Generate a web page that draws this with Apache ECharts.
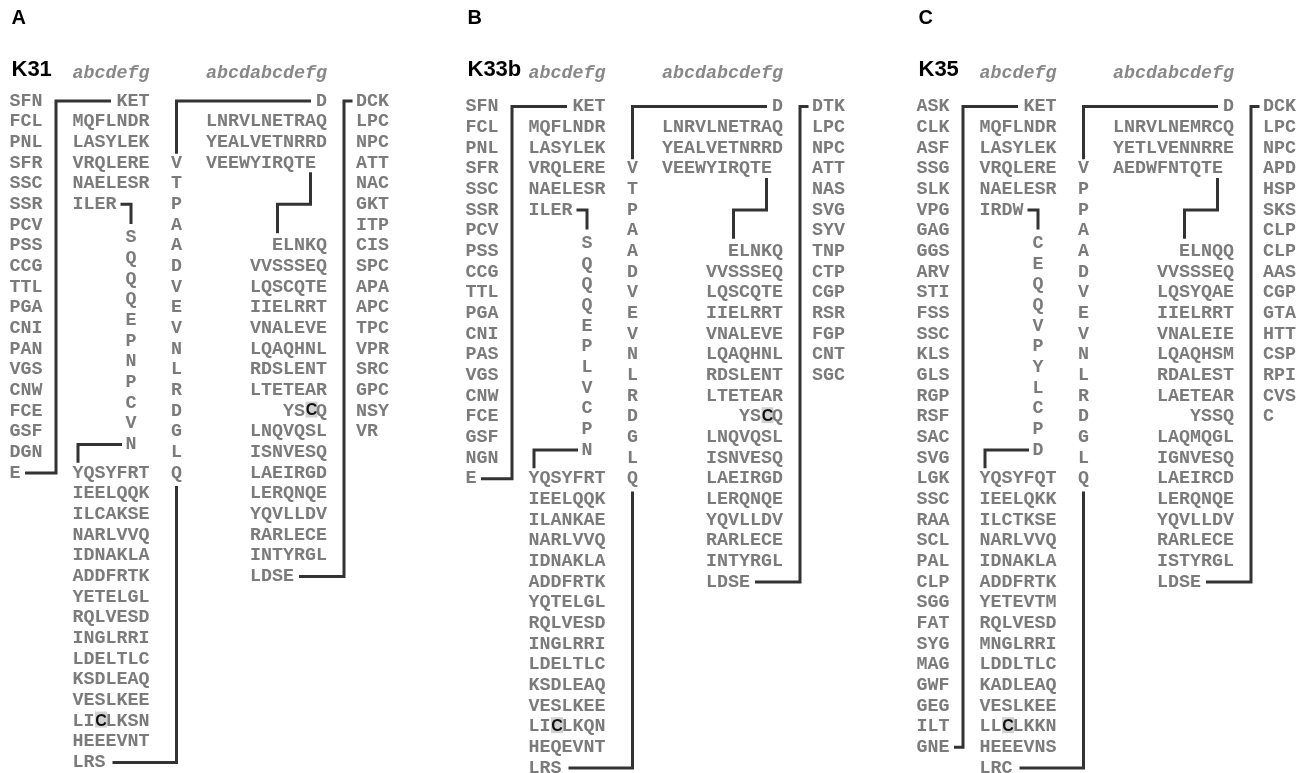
<!DOCTYPE html>
<html><head><meta charset="utf-8">
<script src="https://cdn.jsdelivr.net/npm/echarts@6/dist/echarts.min.js"></script>
<style>html,body{margin:0;padding:0;background:#fff}#c{width:1311px;height:773px}</style>
</head><body><div id="c"></div>
<script>
// ---------------- DATA (lowercase letter = highlighted residue) ----------------
const panelLabels = ['A', 'B', 'C'];
const proteinNames = ['K31', 'K33b', 'K35'];
const heptadShort = 'abcdefg';
const heptadLong = 'abcdabcdefg';

const k31Left = ['SFN','FCL','PNL','SFR','SSC','SSR','PCV','PSS','CCG','TTL','PGA','CNI','PAN','VGS','CNW','FCE','GSF','DGN','E'];
const k31Top = ['KET','MQFLNDR','LASYLEK','VRQLERE','NAELESR','ILER'];
const k31Loop = 'SQQQEPNPCVN';
const k31Mid = ['YQSYFRT','IEELQQK','ILCAKSE','NARLVVQ','IDNAKLA','ADDFRTK','YETELGL','RQLVESD','INGLRRI','LDELTLC','KSDLEAQ','VESLKEE','LIcLKSN','HEEEVNT','LRS'];
const k31Vert = 'VTPAADVEVNLRDGLQ';
const k31RightTop = ['D','LNRVLNETRAQ','YEALVETNRRD','VEEWYIRQTE'];
const k31RightMid = ['ELNKQ','VVSSSEQ','LQSCQTE','IIELRRT','VNALEVE','LQAQHNL','RDSLENT','LTETEAR','YScQ','LNQVQSL','ISNVESQ','LAEIRGD','LERQNQE','YQVLLDV','RARLECE','INTYRGL','LDSE'];
const k31Right = ['DCK','LPC','NPC','ATT','NAC','GKT','ITP','CIS','SPC','APA','APC','TPC','VPR','SRC','GPC','NSY','VR'];

const k33Left = ['SFN','FCL','PNL','SFR','SSC','SSR','PCV','PSS','CCG','TTL','PGA','CNI','PAS','VGS','CNW','FCE','GSF','NGN','E'];
const k33Top = ['KET','MQFLNDR','LASYLEK','VRQLERE','NAELESR','ILER'];
const k33Loop = 'SQQQEPLVCPN';
const k33Mid = ['YQSYFRT','IEELQQK','ILANKAE','NARLVVQ','IDNAKLA','ADDFRTK','YQTELGL','RQLVESD','INGLRRI','LDELTLC','KSDLEAQ','VESLKEE','LIcLKQN','HEQEVNT','LRS'];
const k33Vert = 'VTPAADVEVNLRDGLQ';
const k33RightTop = ['D','LNRVLNETRAQ','YEALVETNRRD','VEEWYIRQTE'];
const k33RightMid = ['ELNKQ','VVSSSEQ','LQSCQTE','IIELRRT','VNALEVE','LQAQHNL','RDSLENT','LTETEAR','YScQ','LNQVQSL','ISNVESQ','LAEIRGD','LERQNQE','YQVLLDV','RARLECE','INTYRGL','LDSE'];
const k33Right = ['DTK','LPC','NPC','ATT','NAS','SVG','SYV','TNP','CTP','CGP','RSR','FGP','CNT','SGC'];

const k35Left = ['ASK','CLK','ASF','SSG','SLK','VPG','GAG','GGS','ARV','STI','FSS','SSC','KLS','GLS','RGP','RSF','SAC','SVG','LGK','SSC','RAA','SCL','PAL','CLP','SGG','FAT','SYG','MAG','GWF','GEG','ILT','GNE'];
const k35Top = ['KET','MQFLNDR','LASYLEK','VRQLERE','NAELESR','IRDW'];
const k35Loop = 'CEQQVPYLCPD';
const k35Mid = ['YQSYFQT','IEELQKK','ILCTKSE','NARLVVQ','IDNAKLA','ADDFRTK','YETEVTM','RQLVESD','MNGLRRI','LDDLTLC','KADLEAQ','VESLKEE','LLcLKKN','HEEEVNS','LRC'];
const k35Vert = 'VPPAADVEVNLRDGLQ';
const k35RightTop = ['D','LNRVLNEMRCQ','YETLVENNRRE','AEDWFNTQTE'];
const k35RightMid = ['ELNQQ','VVSSSEQ','LQSYQAE','IIELRRT','VNALEIE','LQAQHSM','RDALEST','LAETEAR','YSSQ','LAQMQGL','IGNVESQ','LAEIRCD','LERQNQE','YQVLLDV','RARLECE','ISTYRGL','LDSE'];
const k35Right = ['DCK','LPC','NPC','APD','HSP','SKS','CLP','CLP','AAS','CGP','GTA','HTT','CSP','RPI','CVS','C'];

const panels = [
  {left:k31Left, top:k31Top, loop:k31Loop, mid:k31Mid, vert:k31Vert, rtop:k31RightTop, rmid:k31RightMid, right:k31Right},
  {left:k33Left, top:k33Top, loop:k33Loop, mid:k33Mid, vert:k33Vert, rtop:k33RightTop, rmid:k33RightMid, right:k33Right},
  {left:k35Left, top:k35Top, loop:k35Loop, mid:k35Mid, vert:k35Vert, rtop:k35RightTop, rmid:k35RightMid, right:k35Right}
];

// ---------------- LAYOUT ----------------
const W = 1311, H = 773;
const ROW0_Y = 101, ROW_H = 20.67;
const rowAt = y => 1 + (y - ROW0_Y) / ROW_H;
const CW = 11;
const PANEL_X = [0, 456, 907];
const PANEL_RS = [0, 0.27, 0.27];
const LEFT_X = 9.5, BR_X = 56, MID_X0 = 72.5, LOOP_X = 131, VCOL_X = 176.5, RB_X0 = 206, RBR_X = 344, RCOL_X = 356;

const FONT_SEQ = 'bold 18.33px "Liberation Mono", "DejaVu Sans Mono", monospace';
const FONT_HEAD = 'italic bold 18.33px "Liberation Mono", monospace';
const FONT_TITLE = 'bold 22px "Liberation Sans", Arial, sans-serif';
const FONT_LABEL = 'bold 20px "Liberation Sans", Arial, sans-serif';
const FONT_HL = 'bold 16px "Liberation Sans", Arial, sans-serif';
const SEQ_COLOR = '#7b7b7b';

const texts = [];
const segs = [];
function addText(x, r, text, font, color, align) {
  texts.push({kind: 'text', x, r, text, font, color, align: align || 'left'});
}
function addSeq(x0, r, s) {
  let plain = '';
  for (let i = 0; i < s.length; i++) {
    const ch = s[i];
    if (ch !== ch.toUpperCase()) {
      plain += ' ';
      const cx = x0 + (i + 0.5) * CW + 1;
      texts.push({kind: 'box', x: cx, r, w: 12, h: 16, dy: -1.5});
      addText(cx, r, ch.toUpperCase(), FONT_HL, '#111', 'center');
    } else plain += ch;
  }
  addText(x0, r, plain, FONT_SEQ, SEQ_COLOR, 'left');
}

panels.forEach((d, p) => {
  const ox = PANEL_X[p], rs = PANEL_RS[p];
  const X = x => x + ox, R = r => r + rs;
  // headers
  addText(X(11.5), rowAt(18), panelLabels[p], FONT_LABEL, '#000', 'left');
  addText(X(11.5), rowAt(70), proteinNames[p], FONT_TITLE, '#000', 'left');
  addText(X(MID_X0), rowAt(73), heptadShort, FONT_HEAD, '#888', 'left');
  addText(X(RB_X0), rowAt(73), heptadLong, FONT_HEAD, '#888', 'left');
  // left column
  d.left.forEach((s, i) => addSeq(X(LEFT_X), R(1 + i), s));
  const nL = d.left.length, lastL = d.left[nL - 1].length;
  segs.push([[X(LEFT_X + lastL * CW + 4.5), R(nL)], [X(BR_X), R(nL)], [X(BR_X), R(1)], [X(MID_X0 + (7 - d.top[0].length) * CW - 5.5), R(1)]]);
  // top middle block
  d.top.forEach((s, i) => {
    const x0 = i === 0 ? MID_X0 + (7 - s.length) * CW : MID_X0;
    addSeq(X(x0), R(1 + i), s);
  });
  const nT = d.top.length, lastT = d.top[nT - 1].length;
  segs.push([[X(MID_X0 + lastT * CW + 4), R(nT)], [X(LOOP_X), R(nT)], [X(LOOP_X), R(nT + 0.95)]]);
  // loop column
  const loopR0 = nT + 1.62;
  for (let i = 0; i < d.loop.length; i++) addText(X(LOOP_X), R(loopR0 + i), d.loop[i], FONT_SEQ, SEQ_COLOR, 'center');
  const loopEnd = loopR0 + d.loop.length - 1;
  const midR0 = 19;
  segs.push([[X(LOOP_X - 9), R(loopEnd)], [X(MID_X0 + 0.5 * CW), R(loopEnd)], [X(MID_X0 + 0.5 * CW), R(midR0 - 0.5)]]);
  // mid block
  d.mid.forEach((s, i) => addSeq(X(MID_X0), R(midR0 + i), s));
  const lastMidR = midR0 + d.mid.length - 1, lastMidLen = d.mid[d.mid.length - 1].length;
  // vertical column
  const vR0 = 4;
  for (let i = 0; i < d.vert.length; i++) addText(X(VCOL_X), R(vR0 + i), d.vert[i], FONT_SEQ, SEQ_COLOR, 'center');
  const vEnd = vR0 + d.vert.length - 1;
  segs.push([[X(VCOL_X), R(vR0 - 0.45)], [X(VCOL_X), R(1)], [X(RB_X0 + (11 - d.rtop[0].length) * CW - 5), R(1)]]);
  segs.push([[X(VCOL_X), R(vEnd + 0.62)], [X(VCOL_X), R(lastMidR)], [X(MID_X0 + lastMidLen * CW + 7), R(lastMidR)]]);
  // right top block
  d.rtop.forEach((s, i) => {
    const x0 = i === 0 ? RB_X0 + (11 - s.length) * CW : RB_X0;
    addSeq(X(x0), R(1 + i), s);
  });
  const nRT = d.rtop.length, lastRT = d.rtop[nRT - 1].length;
  const ex = RB_X0 + (lastRT - 0.5) * CW, jx = RB_X0 + 6.5 * CW;
  segs.push([[X(ex), R(nRT + 0.45)], [X(ex), R(nRT + 2)], [X(jx), R(nRT + 2)], [X(jx), R(nRT + 3.4)]]);
  // right mid block
  const rmR0 = nRT + 4;
  d.rmid.forEach((s, i) => {
    const last = i === d.rmid.length - 1;
    const x0 = last ? RB_X0 + 4 * CW : RB_X0 + (11 - s.length) * CW;
    addSeq(X(x0), R(rmR0 + i), s);
  });
  const lastRM = rmR0 + d.rmid.length - 1, lastRMLen = d.rmid[d.rmid.length - 1].length;
  segs.push([[X(RB_X0 + 4 * CW + lastRMLen * CW + 5), R(lastRM)], [X(RBR_X), R(lastRM)], [X(RBR_X), R(1)], [X(RCOL_X - 3.5), R(1)]]);
  // right column
  d.right.forEach((s, i) => addSeq(X(RCOL_X), R(1 + i), s));
});

// ---------------- CHART ----------------
const chart = echarts.init(document.getElementById('c'), null, {renderer: 'canvas'});
chart.setOption({
  animation: false,
  backgroundColor: '#fff',
  grid: {left: 0, right: 0, top: 0, bottom: 0},
  xAxis: {type: 'value', min: 0, max: W, show: false},
  yAxis: {type: 'value', inverse: true, min: rowAt(0), max: rowAt(H), show: false},
  series: [
    {
      type: 'custom', coordinateSystem: 'cartesian2d', silent: true, clip: false,
      encode: {x: 0, y: 1},
      data: segs.map((s, i) => [s[0][0], s[0][1], i]),
      renderItem: (params, api) => {
        const s = segs[api.value(2)];
        return {type: 'polyline', shape: {points: s.map(pt => api.coord(pt))},
          style: {stroke: '#333', lineWidth: 3, fill: null, lineJoin: 'miter', lineCap: 'butt'}};
      }
    },
    {
      type: 'custom', coordinateSystem: 'cartesian2d', silent: true, clip: false,
      encode: {x: 0, y: 1},
      data: texts.map((t, i) => [t.x, t.r, i]),
      renderItem: (params, api) => {
        const t = texts[api.value(2)];
        const pt = api.coord([t.x, t.r]);
        if (t.kind === 'box') {
          return {type: 'rect', shape: {x: pt[0] - t.w / 2, y: pt[1] - t.h / 2 + t.dy, width: t.w, height: t.h}, style: {fill: '#d2d2d2'}};
        }
        return {type: 'text', x: pt[0], y: pt[1],
          style: {text: t.text, font: t.font, fill: t.color, align: t.align, verticalAlign: 'middle'}};
      }
    }
  ]
});
</script>
</body></html>
